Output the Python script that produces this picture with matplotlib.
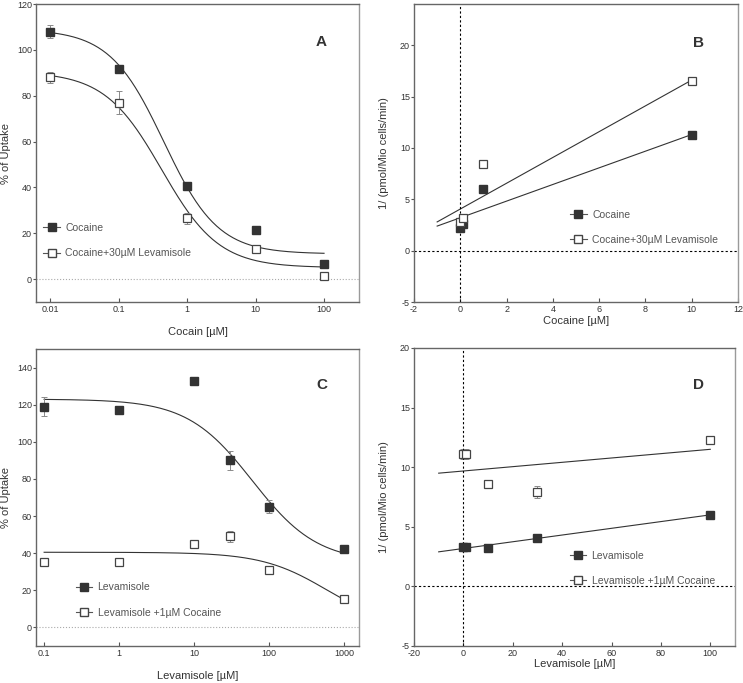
import numpy as np
import matplotlib
matplotlib.use('Agg')
import matplotlib.pyplot as plt
from matplotlib.lines import Line2D

plt.rcParams['font.family'] = ['Liberation Sans', 'DejaVu Sans']
plt.rcParams['axes.unicode_minus'] = False

# ---- panel A: cocaine dose response
cocA = [0.01, 0.1, 1, 10, 100]
cocaine = [108, 91.5, 40.5, 21.5, 6.5]
cocaine_err = [3, 1, 1, 1, 0.5]
cocaine_lev = [88, 77, 26.5, 13, 1.5]
cocaine_lev_err = [2.5, 5, 2.5, 1, 0.5]
# sigmoid fit parameters (top, bottom, logIC50, hill)
fitA_coc = (109, 11, -0.34, 1.1)
fitA_lev = (90.5, 5, -0.37, 1.04)

# ---- panel B: cocaine reciprocal plot
cocB = [0, 0.1, 1, 10]
recB_coc = [2.2, 2.6, 6.0, 11.3]
recB_lev = [2.8, 3.2, 8.4, 16.5]
# linear fit (slope, intercept)
lineB_coc = (0.81, 3.2)
lineB_lev = (1.255, 4.05)

# ---- panel C: levamisole dose response
levC = [0.1, 1, 10, 30, 100, 1000]
levamisole = [119, 117, 132.5, 90, 65, 42]
levamisole_err = [5, 1, 1, 5, 3.5, 1]
levamisole_coc = [35, 35, 45, 49, 31, 15.5]
levamisole_coc_err = [1, 1, 1, 3, 1, 1]
fitC_lev = (123, 35, np.log10(60), 1.0)
fitC_coc = (40.5, 0, np.log10(588), 1.0)

# ---- panel D: levamisole reciprocal plot
levD = [0, 1, 10, 30, 100]
recD_lev = [3.3, 3.3, 3.25, 4.05, 6.0]
recD_lev_err = [0.2, 0.2, 0.2, 0.2, 0.2]
recD_coc = [11.1, 11.1, 8.6, 7.9, 12.3]
recD_coc_err = [0.4, 0.4, 0.2, 0.5, 0.2]
lineD_lev = (0.0282, 3.18)
lineD_coc = (0.0182, 9.68)

FILL = '#333333'
OPEN_EDGE = '#444444'
ERR = '#8a8a8a'
TXT = '#333333'
MS = 5.2


def sigmoid(x, p):
    top, bottom, logic50, hill = p
    return bottom + (top - bottom) / (1 + 10 ** ((np.log10(x) - logic50) * hill))


def style(ax):
    for s in ax.spines.values():
        s.set_color('#666666')
        s.set_linewidth(1.0)
    ax.spines['right'].set_color('#9a9a9a')
    ax.tick_params(axis='x', direction='in', length=3, width=0.8, color='#555555',
                   labelsize=6.5, labelcolor=TXT, pad=2.5)
    ax.tick_params(axis='y', direction='out', length=2.5, width=0.8, color='#555555',
                   labelsize=6.5, labelcolor=TXT, pad=0.5)
    ax.tick_params(top=False, right=False, which='both')


def labels(ax, xlab, ylab, xy_y):
    ax.set_xlabel(xlab, fontsize=8, color=TXT)
    ax.set_ylabel(ylab, fontsize=8, color=TXT)
    ax.xaxis.set_label_coords(0.5, xy_y)
    ax.yaxis.set_label_coords(-0.077, 0.5)


def points(ax, x, y, err, filled):
    if filled:
        kw = dict(marker='s', ms=MS, mfc=FILL, mec=FILL)
    else:
        kw = dict(marker='s', ms=MS, mfc='white', mec=OPEN_EDGE, mew=0.9)
    if err is not None:
        ax.errorbar(x, y, yerr=err, fmt='none', ecolor=ERR, elinewidth=0.7,
                    capsize=2.5, capthick=0.7, zorder=2)
    ax.plot(x, y, ls='none', zorder=3, **kw)


def legend(ax, labels, anchor, spacing):
    h = [Line2D([], [], color='#555555', lw=0.8, marker='s', ms=MS, mfc=FILL, mec=FILL),
         Line2D([], [], color='#555555', lw=0.8, marker='s', ms=MS, mfc='white', mec=OPEN_EDGE)]
    lg = ax.legend(h, labels, loc='center left', bbox_to_anchor=anchor, frameon=False,
                   fontsize=7.5, handlelength=1.6, handletextpad=0.5,
                   labelspacing=spacing, borderaxespad=0)
    for t in lg.get_texts():
        t.set_color('#555555')


fig = plt.figure(figsize=(7.43, 6.83), dpi=100)
axA = fig.add_axes([0.0485, 0.5578, 0.4347, 0.4363])
axB = fig.add_axes([0.5572, 0.5578, 0.4361, 0.4363])
axC = fig.add_axes([0.0485, 0.0542, 0.4347, 0.4348])
axD = fig.add_axes([0.5572, 0.0542, 0.4320, 0.4363])
for ax in (axA, axB, axC, axD):
    style(ax)

# A
xs = np.logspace(-2, 2, 200)
axA.plot(xs, sigmoid(xs, fitA_coc), color='#333333', lw=0.8)
axA.plot(xs, sigmoid(xs, fitA_lev), color='#333333', lw=0.8)
points(axA, cocA, cocaine, cocaine_err, True)
points(axA, cocA, cocaine_lev, cocaine_lev_err, False)
axA.axhline(0, color='#aaaaaa', ls=':', lw=0.8)
axA.set_xscale('log')
axA.set_xlim(0.00625, 324)
axA.set_ylim(-10, 120)
axA.set_xticks([0.01, 0.1, 1, 10, 100])
axA.set_xticklabels(['0.01', '0.1', '1', '10', '100'])
axA.minorticks_off()
axA.set_yticks(range(0, 121, 20))
labels(axA, 'Cocain [µM]', '% of Uptake', -0.084)
axA.text(0.884, 0.872, 'A', transform=axA.transAxes, fontsize=11, fontweight='bold',
         color='#333333', ha='center', va='center')
legend(axA, ['Cocaine', 'Cocaine+30µM Levamisole'], (0.01, 0.206), 1.45)

# B
xl = np.array([-1, 10])
for p in (lineB_coc, lineB_lev):
    axB.plot(xl, p[0] * xl + p[1], color='#333333', lw=0.8)
points(axB, cocB, recB_coc, None, True)
points(axB, cocB, recB_lev, None, False)
axB.axhline(0, color='black', ls=(0, (2, 2)), lw=0.8)
axB.axvline(0, color='black', ls=(0, (2, 2)), lw=0.8)
axB.set_xlim(-2, 12)
axB.set_ylim(-5, 24)
axB.set_xticks(range(-2, 13, 2))
axB.set_yticks(range(-5, 21, 5))
labels(axB, 'Cocaine [µM]', '1/ (pmol/Mio cells/min)', -0.047)
axB.text(0.878, 0.869, 'B', transform=axB.transAxes, fontsize=11, fontweight='bold',
         color='#333333', ha='center', va='center')
legend(axB, ['Cocaine', 'Cocaine+30µM Levamisole'], (0.469, 0.25), 1.45)

# C
xs = np.logspace(-1, 3, 200)
axC.plot(xs, sigmoid(xs, fitC_lev), color='#333333', lw=0.8)
axC.plot(xs, sigmoid(xs, fitC_coc), color='#333333', lw=0.8)
points(axC, levC, levamisole, levamisole_err, True)
points(axC, levC, levamisole_coc, levamisole_coc_err, False)
axC.axhline(0, color='#aaaaaa', ls=':', lw=0.8)
axC.set_xscale('log')
axC.set_xlim(0.078, 1585)
axC.set_ylim(-10, 150)
axC.set_xticks([0.1, 1, 10, 100, 1000])
axC.set_xticklabels(['0.1', '1', '10', '100', '1000'])
axC.minorticks_off()
axC.set_yticks(range(0, 141, 20))
labels(axC, 'Levamisole [µM]', '% of Uptake', -0.084)
axC.text(0.884, 0.879, 'C', transform=axC.transAxes, fontsize=11, fontweight='bold',
         color='#333333', ha='center', va='center')
legend(axC, ['Levamisole', 'Levamisole +1µM Cocaine'], (0.11, 0.155), 1.45)

# D
xl = np.array([-10, 100])
for p in (lineD_lev, lineD_coc):
    axD.plot(xl, p[0] * xl + p[1], color='#333333', lw=0.8)
points(axD, levD, recD_lev, recD_lev_err, True)
points(axD, levD, recD_coc, recD_coc_err, False)
axD.axhline(0, color='black', ls=(0, (2, 2)), lw=0.8)
axD.axvline(0, color='black', ls=(0, (2, 2)), lw=0.8)
axD.set_xlim(-20, 110)
axD.set_ylim(-5, 20)
axD.set_xticks(range(-20, 101, 20))
axD.set_yticks(range(-5, 21, 5))
labels(axD, 'Levamisole [µM]', '1/ (pmol/Mio cells/min)', -0.045)
axD.text(0.885, 0.876, 'D', transform=axD.transAxes, fontsize=11, fontweight='bold',
         color='#333333', ha='center', va='center')
legend(axD, ['Levamisole', 'Levamisole +1µM Cocaine'], (0.472, 0.26), 1.45)

fig.savefig('out.png', dpi=100)
